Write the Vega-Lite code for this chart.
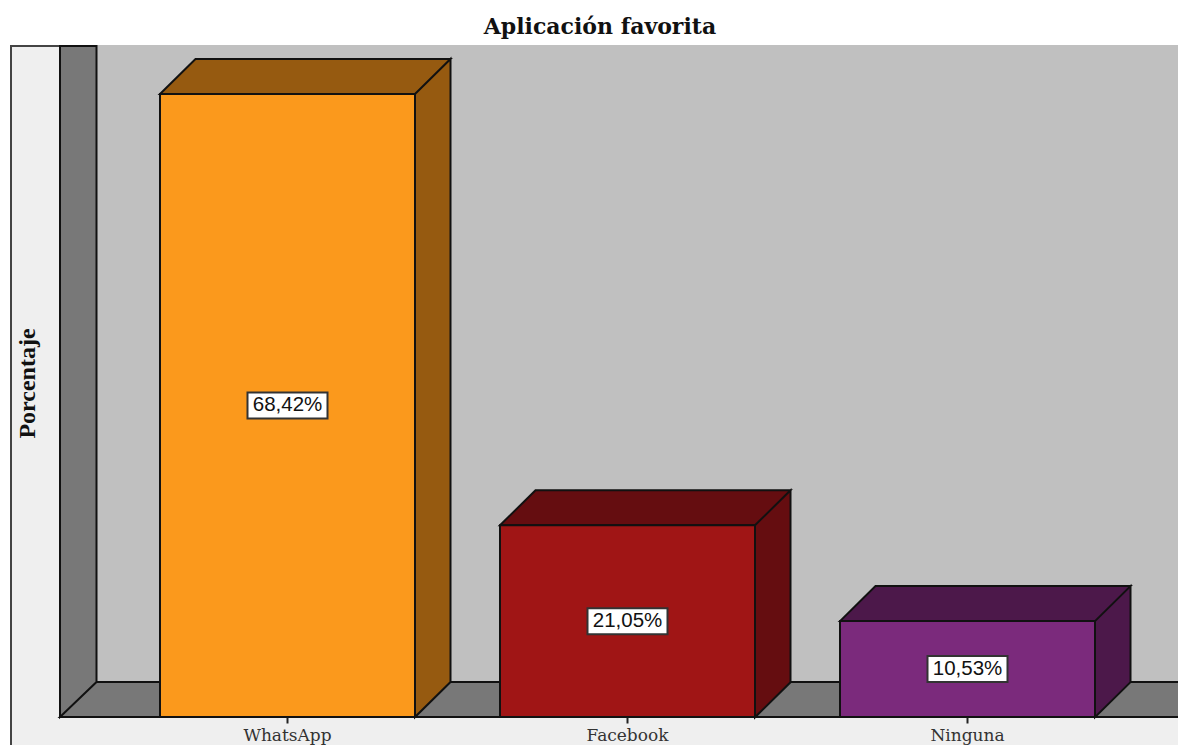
{
"$schema":"https://vega.github.io/schema/vega-lite/v6.json",
"width":1118,"height":672,
"autosize":{"type":"none"},
"padding":{"left":60,"top":45,"right":0,"bottom":28},
"background":"#ffffff",
"view":{"stroke":null},
"title":{"text":"Aplicación favorita","font":"DejaVu Serif","fontSize":22,"fontWeight":"bold","color":"#111111","anchor":"middle","dx":-19,"offset":3},
"data":{"values":[
{"app":"WhatsApp","pct":68.42,"label":"68,42%"},
{"app":"Facebook","pct":21.05,"label":"21,05%"},
{"app":"Ninguna","pct":10.53,"label":"10,53%"}
]},
"encoding":{
"x":{"field":"app","type":"nominal","sort":null,
 "scale":{"domain":["WhatsApp","Facebook","Ninguna"],"range":[15,1120],"paddingInner":0.25,"paddingOuter":0.25},
 "axis":{"title":null,"domain":false,"labelAngle":0,"labelFont":"DejaVu Serif","labelFontSize":17,"labelColor":"#333333","labelPadding":4,"tickColor":"#222222","tickSize":6,"tickWidth":2,"zindex":1}}
},
"layer":[
{"transform":[{"filter":"datum.app==='WhatsApp'"}],
 "mark":{"type":"point","filled":true,"opacity":1,"size":4,"fill":"#EFEFEF","stroke":"#444444","strokeWidth":2,
  "shape":"M-276.5 33 L-276.5 -671 L900 -671 L900 33 Z"},
 "encoding":{"y":{"datum":0,"type":"quantitative","scale":{"domain":[0,73.8],"nice":false,"zero":true},
   "axis":{"title":"Porcentaje","titleFont":"Liberation Serif","titleFontSize":24,"titleFontWeight":"bold","titleColor":"#111111","titleAngle":-90,"titleX":-21,"titleY":338,"labels":false,"ticks":false,"domain":false,"grid":false,"zindex":1}}}},
{"transform":[{"filter":"datum.app==='WhatsApp'"}],
 "mark":{"type":"point","filled":true,"opacity":1,"size":4,"fill":"#C0C0C0","strokeWidth":0,
  "shape":"M-227.5 0 L-227.5 -672 L900 -672 L900 0 Z"},
 "encoding":{"y":{"datum":0,"type":"quantitative"}}},
{"transform":[{"filter":"datum.app==='WhatsApp'"}],
 "mark":{"type":"point","filled":true,"opacity":1,"size":4,"fill":"#787878","stroke":"#111111","strokeWidth":2,
  "shape":"M-227.5 0 L-227.5 -671 L-191 -671 L-191 -35 L-227.5 0 Z M-227.5 0 L-191 -35 L900 -35 L900 0 Z"},
 "encoding":{"y":{"datum":0,"type":"quantitative"}}},
{"mark":{"type":"rule","color":"#111111","strokeWidth":2},
 "encoding":{"x":{"value":0},"x2":{"value":1118},"y":{"datum":0,"type":"quantitative"}}},
{"mark":{"type":"point","filled":true,"opacity":1,"size":4,"stroke":"#111111","strokeWidth":2},
 "encoding":{
  "y":{"field":"pct","type":"quantitative"},
  "shape":{"field":"app","type":"nominal","legend":null,"scale":{"domain":["WhatsApp","Facebook","Ninguna"],"range":[
    "M-127.5 0 L-92 -35 L163 -35 L127.5 0 Z M127.5 0 L163 -35 L163 588 L127.5 623 Z",
    "M-127.5 0 L-92 -35 L163 -35 L127.5 0 Z M127.5 0 L163 -35 L163 157 L127.5 192 Z",
    "M-127.5 0 L-92 -35 L163 -35 L127.5 0 Z M127.5 0 L163 -35 L163 61 L127.5 96 Z"]}},
  "fill":{"field":"app","type":"nominal","legend":null,"scale":{"domain":["WhatsApp","Facebook","Ninguna"],"range":["#965A10","#650D10","#4C184A"]}}}},
{"mark":{"type":"bar","stroke":"#111111","strokeWidth":2,"opacity":1},
 "encoding":{
  "y":{"field":"pct","type":"quantitative"},
  "y2":{"datum":0},
  "color":{"field":"app","type":"nominal","legend":null,"scale":{"domain":["WhatsApp","Facebook","Ninguna"],"range":["#FB991C","#A01515","#7B2A7C"]}}}},
{"transform":[{"calculate":"datum.pct/2","as":"mid"}],
 "mark":{"type":"point","filled":true,"opacity":1,"size":4,"fill":"#ffffff","stroke":"#333333","strokeWidth":2,
  "shape":"M-40 -13 L40 -13 L40 13 L-40 13 Z"},
 "encoding":{"y":{"field":"mid","type":"quantitative"}}},
{"transform":[{"calculate":"datum.pct/2","as":"mid"}],
 "mark":{"type":"text","font":"Liberation Sans","fontSize":20.5,"color":"#111111","align":"center","baseline":"middle"},
 "encoding":{"y":{"field":"mid","type":"quantitative"},"text":{"field":"label"}}}
],
"resolve":{"scale":{"color":"independent","fill":"independent"}},
"config":{"axis":{"grid":false}}
}
